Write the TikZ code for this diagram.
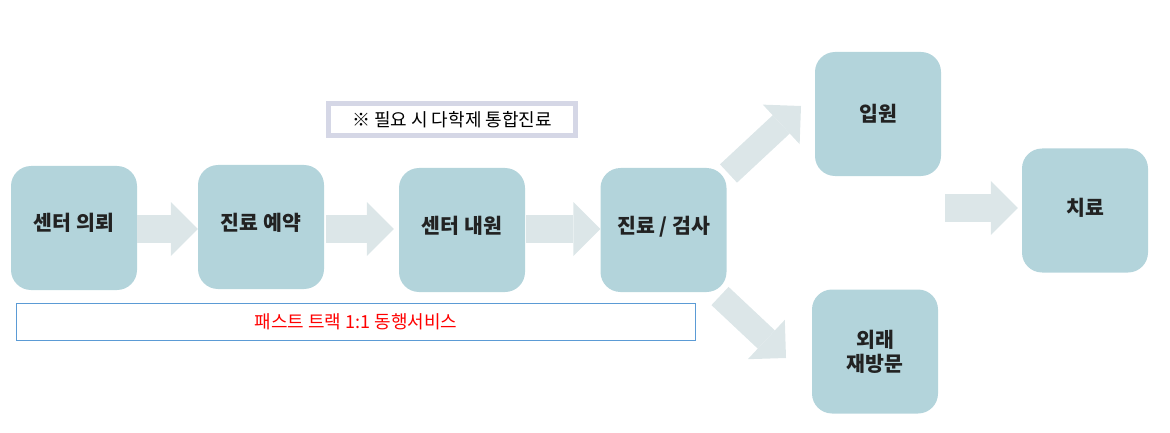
\documentclass[tikz,border=0pt]{standalone}
\usepackage{fontspec}
\setmainfont{Noto Sans CJK KR}
\usetikzlibrary{arrows.meta}

\definecolor{boxteal}{HTML}{B3D4DB}
\definecolor{flowgray}{HTML}{DCE6E8}
\definecolor{notelav}{HTML}{D5D7E6}
\definecolor{trackblue}{HTML}{5B9BD5}
\definecolor{labelink}{HTML}{222222}

\begin{document}
\begin{tikzpicture}[x=1pt, y=-1pt,
    stage/.style={fill=boxteal, rounded corners=20pt, minimum width=126pt, minimum height=124pt,
        align=center, text=labelink, font=\fontsize{20.5}{24}\selectfont\bfseries},
    raised/.style={text height=18pt, text depth=#1},
    flow/.style={draw=flowgray, line width=28pt,
        -{Triangle[length=27pt, width=54pt, line width=0pt]}}
]
    \useasboundingbox (0,0) rectangle (1170,433);

    % ===== Main path =====
    \node[stage, raised=14pt] (refer) at (74, 228) {센터 의뢰};
    \node[stage, raised=12pt] (book) at (261, 227) {진료 예약};
    \node[stage, raised=12pt] (visit) at (462, 230) {센터 내원};
    \node[stage, raised=12pt] (exam) at (663.5, 230) {진료 / 검사};

    % ===== Outcomes =====
    \node[stage] (admit) at (878, 114) {입원};
    \node[stage] (revisit) at (875, 351.5) {외래\\재방문};
    \node[stage, raised=9pt] (treat) at (1085, 210.5) {치료};

    % Notes
    \node[draw=notelav, line width=5pt, minimum width=247pt, minimum height=32pt,
        font=\fontsize{18}{20}\selectfont] (multi) at (452, 119.5) {※ 필요 시 다학제 통합진료};
    \node[draw=trackblue, line width=1pt, minimum width=679pt, minimum height=37pt,
        text=red, font=\fontsize{18}{20}\selectfont] (track) at (356, 322) {패스트 트랙 1:1 동행서비스};

    % Flow arrows
    \coordinate (lane) at (0, 229);
    \draw[flow] (refer.east |- lane) -- (book.west |- lane);
    \draw[flow, shorten <=2pt, shorten >=5pt] (book.east |- lane) -- (visit.west |- lane);
    \draw[flow, shorten <=1pt] (visit.east |- lane) -- (exam.west |- lane);

    % Branches
    \coordinate (upTail) at (728.5, 173.5);
    \coordinate (upTip) at (801, 106);
    \coordinate (downTail) at (720, 296);
    \coordinate (downTip) at (786, 358);
    \draw[flow, line width=25pt] (upTail) -- (upTip);
    \draw[flow, line width=25pt] (downTail) -- (downTip);

    % Into treatment
    \coordinate (merge) at (945, 208);
    \draw[flow, shorten >=4pt] (merge) -- (merge -| treat.west);
\end{tikzpicture}
\end{document}
